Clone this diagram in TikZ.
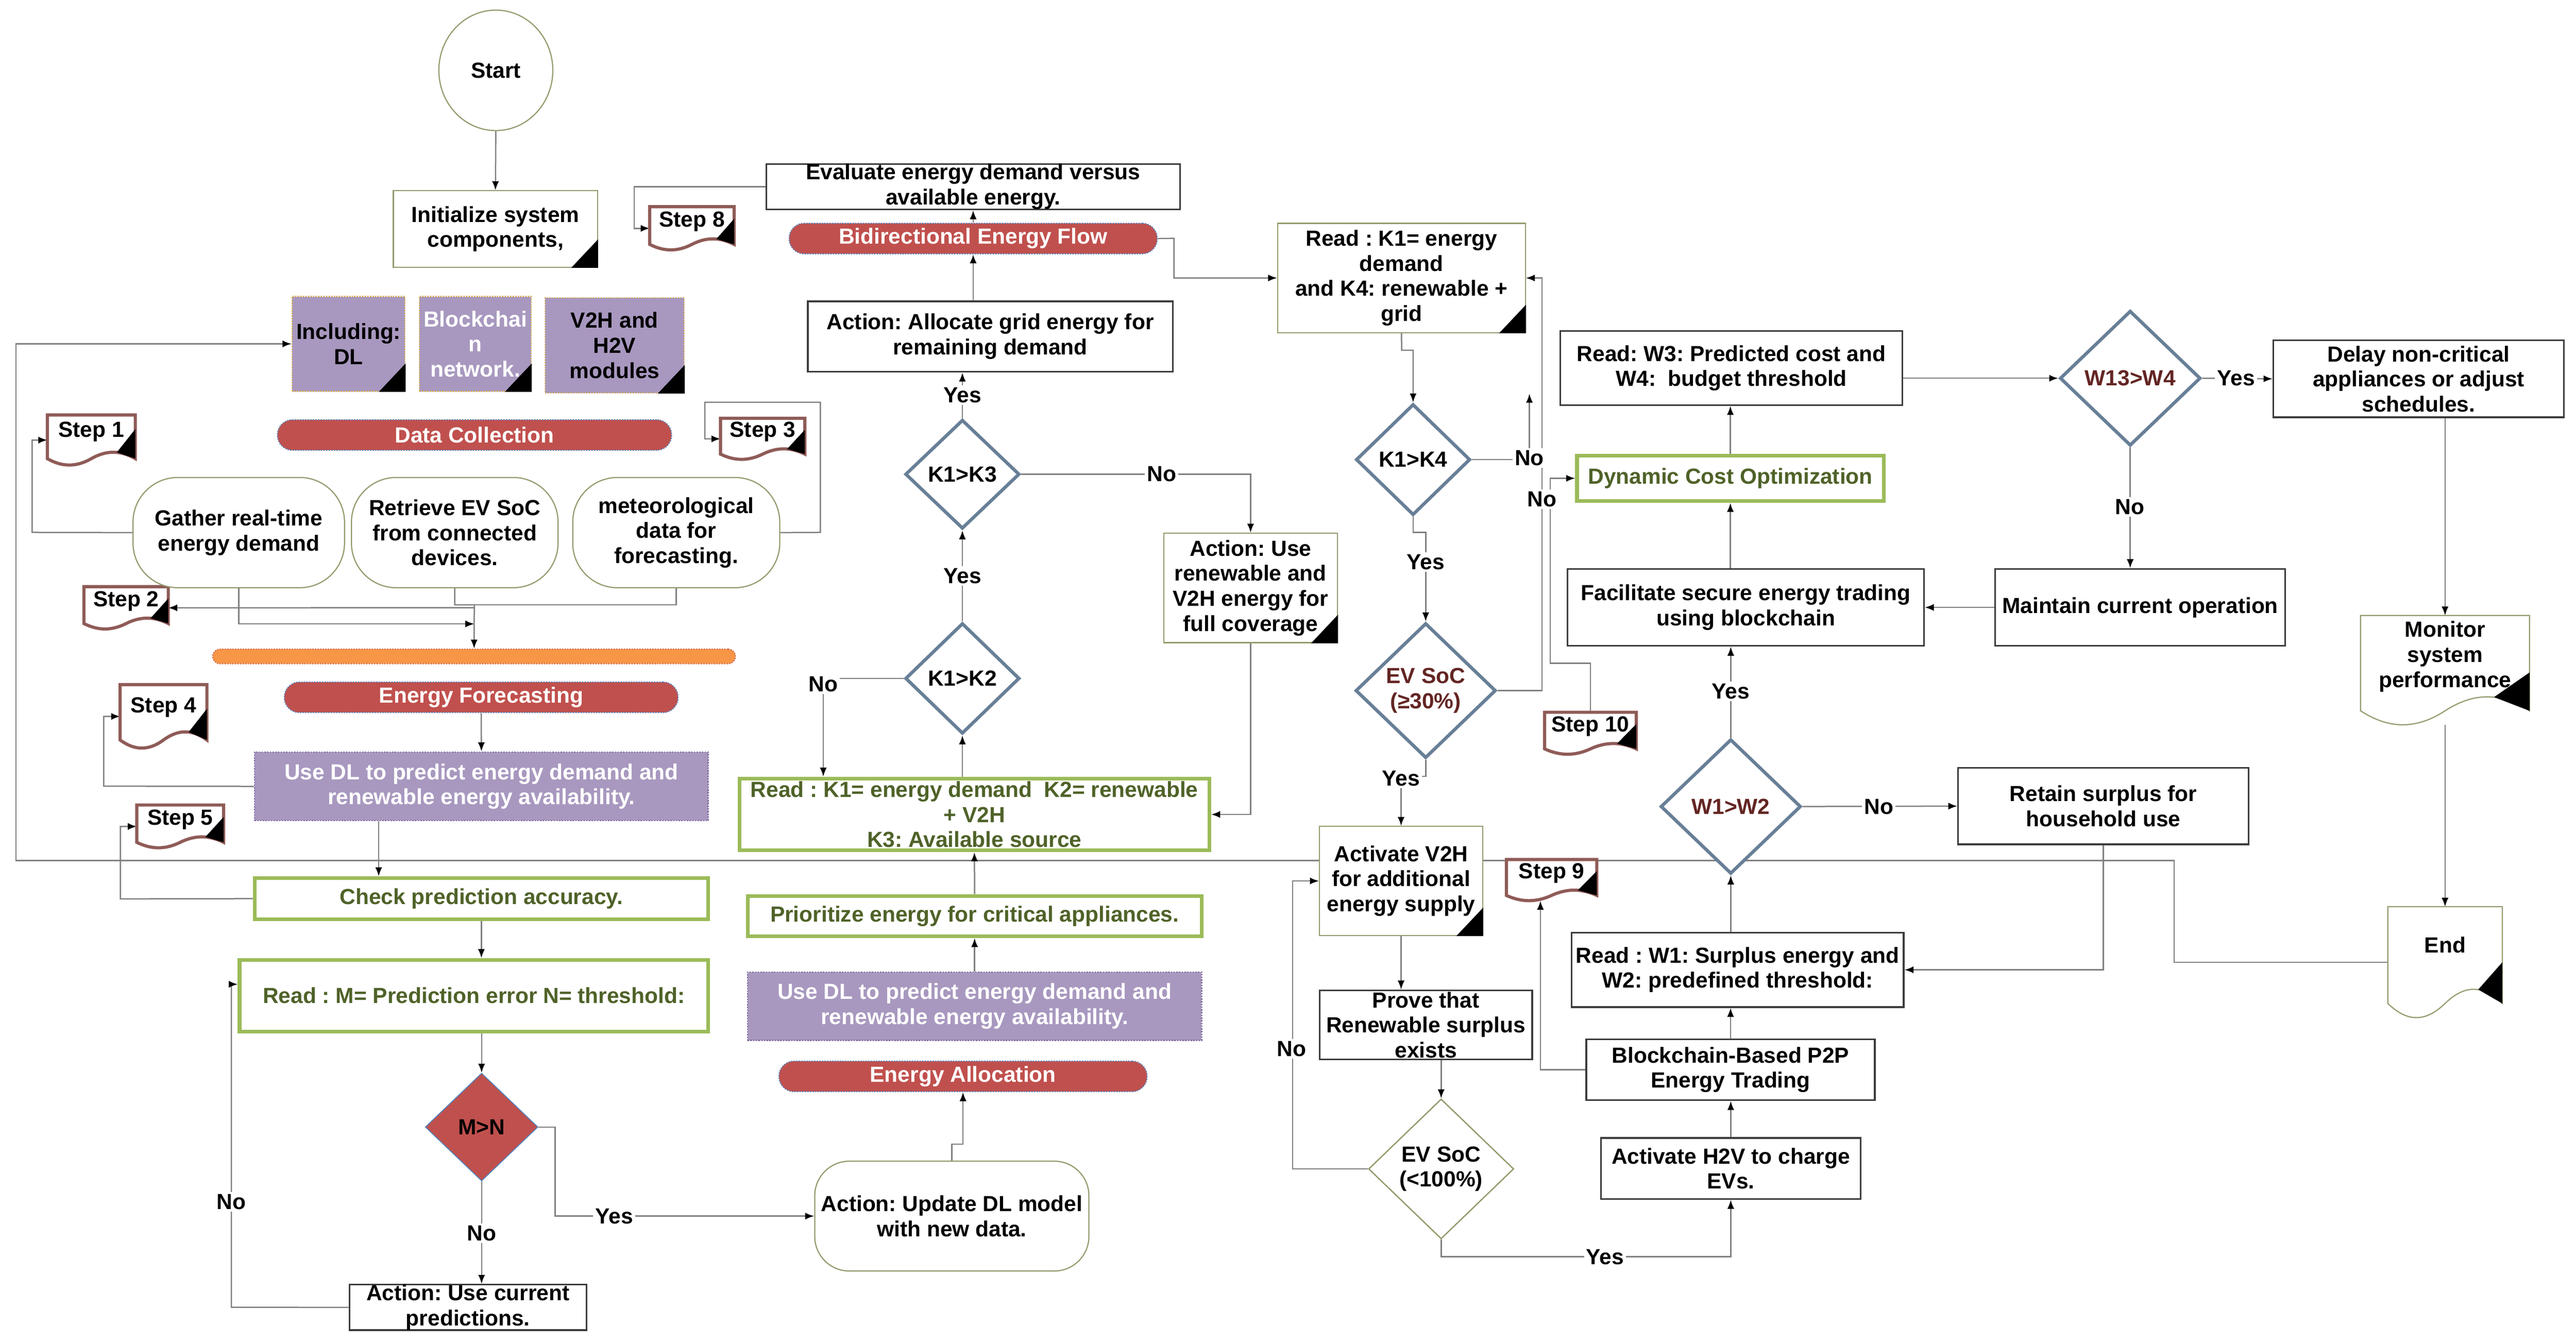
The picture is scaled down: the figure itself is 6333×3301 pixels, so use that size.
\documentclass[tikz,border=0pt]{standalone}
\usepackage{fontspec}
\setmainfont{Liberation Sans}
\usetikzlibrary{shapes.geometric,arrows.meta,calc}
\pgfdeclarelayer{background}
\pgfdeclarelayer{mid}
\pgfsetlayers{background,mid,main}
\definecolor{cRed}{HTML}{C0504D}
\definecolor{cPurp}{HTML}{A898BF}
\definecolor{cOrange}{HTML}{F79646}
\definecolor{cGreen}{HTML}{9BBB59}
\definecolor{cGreenT}{HTML}{4F6228}
\definecolor{cSteel}{HTML}{687F97}
\definecolor{cDkRed}{HTML}{632523}
\definecolor{cOlive}{HTML}{949A6C}
\definecolor{cBox}{HTML}{3C3C3C}
\definecolor{cLine}{HTML}{808080}
\definecolor{cStep}{HTML}{8F5B57}
\definecolor{cBlueDot}{HTML}{4F81BD}
\definecolor{cYelDot}{HTML}{D9A93F}
\definecolor{cPurpDot}{HTML}{7F6A9F}
\frenchspacing

\newcommand\mkbox[7]{\node[#6, minimum width={(#4-#2)*0.01cm}, minimum height={(#5-#3)*0.01cm}] (#1) at ({(#2+#4)/2},{(#3+#5)/2}) {#7};}
\newcommand\mkdia[7]{\node[#6, minimum width={#4*0.01cm}, minimum height={#5*0.01cm}] (#1) at (#2,#3) {#7};}
\newcommand\blkcorner[1]{\fill[black] ($(#1.south east)+(0cm,0.70cm)$) -- (#1.south east) -- ($(#1.south east)+(-0.66cm,0cm)$) -- cycle;}
\newcommand\raisetxt[2]{\raisebox{#1}[\height][\depth]{\begin{tabular}{@{}c@{}}#2\end{tabular}}}
\newcommand\mkdoc[3]{%
 \path[#2] let \p1=(#1.north west), \p2=(#1.south east), \n1={\x2-\x1}, \n2={\y1-\y2} in
  (\x1,\y1) -- (\x2,\y1) -- (\x2,{\y2+0.13*\n2})
  .. controls ({\x2-0.17*\n1},{\y2+0.30*\n2}) and ({\x1+0.67*\n1},{\y2+0.30*\n2}) .. ({\x1+0.5*\n1},{\y2+0.13*\n2})
  .. controls ({\x1+0.33*\n1},{\y2-0.04*\n2}) and ({\x1+0.17*\n1},{\y2-0.04*\n2}) .. (\x1,{\y2+0.13*\n2}) -- cycle;
 \fill[black] let \p1=(#1.north west), \p2=(#1.south east), \n1={\x2-\x1}, \n2={\y1-\y2} in
  (\x2,{\y2+#3*\n2}) -- (\x2,{\y2+0.13*\n2}) -- ({\x2-0.21*\n1},{\y2+0.255*\n2}) -- cycle;
}

\tikzset{
 every node/.style={font=\frenchspacing\bfseries\fontsize{15.3pt}{17.5pt}\selectfont, inner sep=0pt, align=center},
 grayb/.style={draw=cBox, line width=1.2pt, fill=white},
 oliveb/.style={draw=cOlive, line width=0.8pt, fill=white},
 stad/.style={draw=cOlive, line width=0.8pt, fill=white, rounded corners=1.1cm},
 greenb/.style={draw=cGreen, line width=2.6pt, fill=white, text=cGreenT},
 purpS/.style={draw=cYelDot, densely dotted, line width=0.8pt, fill=cPurp},
 purpD/.style={draw=cPurpDot, densely dotted, line width=0.9pt, fill=cPurp, text=white},
 redbar/.style={draw=cBlueDot, densely dotted, line width=0.8pt, fill=cRed, text=white, rounded corners=0.37cm},
 orbar/.style={draw=cRed!70!cOrange, densely dotted, line width=0.8pt, fill=cOrange, rounded corners=0.18cm},
 dia/.style={diamond, draw=cSteel, line width=2.3pt, fill=white},
 docn/.style={rectangle},
 stepline/.style={draw=cStep, line width=2.2pt, fill=white},
 oliveline/.style={draw=cOlive, line width=0.8pt, fill=white},
 conn/.style={draw=cLine, line width=0.9pt, -{Latex[length=0.22cm,width=0.17cm,color=black]}},
 plain/.style={draw=cLine, line width=0.9pt},
 lbl/.style={fill=white, inner sep=1.5pt},
}

\begin{document}
\begin{tikzpicture}[x=0.01cm, y=-0.01cm]
\useasboundingbox (0,0) rectangle (6333,3301);
\begin{pgfonlayer}{background}
\fill[white] (0,0) rectangle (6333,3301);
\end{pgfonlayer}

% ---------- left part ----------
\node[ellipse, draw=cOlive, line width=0.8pt, fill=white, minimum width=2.8cm, minimum height=2.96cm] (start) at (1219,173) {Start};
\mkbox{init}{967}{469}{1469}{657}{oliveb}{Initialize system\\components,}
\blkcorner{init}
\mkbox{incl}{718}{729}{996}{962}{purpS}{Including:\\DL}
\blkcorner{incl}
\mkbox{bchain}{1031}{729}{1306}{962}{purpS, text=white}{Blockchai\\n\\network.}
\blkcorner{bchain}
\mkbox{vth}{1340}{732}{1682}{966}{purpS}{V2H and\\H2V\\modules}
\blkcorner{vth}
\mkbox{dcol}{682}{1032}{1651}{1107}{redbar}{Data Collection}
\mkbox{gather}{327}{1174}{847}{1445}{stad}{Gather real-time\\energy demand}
\mkbox{retr}{864}{1174}{1372}{1445}{stad}{Retrieve EV SoC\\from connected\\devices.}
\mkbox{meteo}{1408}{1174}{1917}{1445}{stad}{meteorological\\data for\\forecasting.}
\mkbox{orange}{523}{1596}{1808}{1632}{orbar}{}
\mkbox{fcast}{699}{1677}{1667}{1752}{redbar}{Energy Forecasting}
\mkbox{udl1}{626}{1849}{1741}{2018}{purpD}{Use DL to predict energy demand and\\renewable energy availability.}
\mkbox{check}{626}{2159}{1741}{2260}{greenb}{Check prediction accuracy.}
\mkbox{readM}{589}{2360}{1741}{2536}{greenb}{Read : M= Prediction error N= threshold:}
\mkdia{MN}{1184}{2771}{277}{265}{diamond, draw=cBlueDot, line width=0.6pt, fill=cRed}{M>N}
\mkbox{actuse}{859}{3160}{1442}{3269}{grayb}{Action: Use current\\predictions.}

% steps (documents)
\mkbox{step1}{117}{1021}{332}{1143}{docn}{\raisetxt{0.2cm}{Step 1}}
\mkbox{step2}{207}{1443}{413}{1546}{docn}{\raisetxt{0.16cm}{Step 2}}
\mkbox{step3}{1772}{1029}{1978}{1129}{docn}{\raisetxt{0.16cm}{Step 3}}
\mkbox{step4}{296}{1684}{508}{1839}{docn}{\raisetxt{0.22cm}{Step 4}}
\mkbox{step5}{337}{1980}{549}{2084}{docn}{\raisetxt{0.16cm}{Step 5}}
\mkbox{step8}{1598}{509}{1804}{614}{docn}{\raisetxt{0.16cm}{Step 8}}
\mkbox{step9}{3704}{2114}{3925}{2214}{docn}{\raisetxt{0.16cm}{Step 9}}
\mkbox{step10}{3798}{1752}{4022}{1854}{docn}{\raisetxt{0.16cm}{Step 10}}
\mkbox{monitor}{5804}{1514}{6218}{1782}{docn}{\raisetxt{0.32cm}{Monitor\\system\\performance}}
\mkbox{endd}{5871}{2230}{6151}{2502}{docn}{\raisetxt{0.36cm}{End}}

% ---------- middle ----------
\mkbox{eval}{1884}{404}{2901}{514}{grayb}{Evaluate energy demand versus\\available energy.}
\mkbox{bidir}{1940}{549}{2845}{624}{redbar}{Bidirectional Energy Flow}
\mkbox{alloc}{1986}{741}{2883}{914}{grayb}{Action: Allocate grid energy for\\remaining demand}
\mkdia{K1K3}{2366}{1166}{281}{268}{dia}{K1>K3}
\mkdia{K1K2}{2366}{1668}{281}{272}{dia}{K1>K2}
\mkbox{actren}{2861}{1311}{3288}{1580}{oliveb}{Action: Use\\renewable and\\V2H energy for\\full coverage}
\blkcorner{actren}
\mkbox{readK}{1818}{1914}{2973}{2091}{greenb}{Read : K1= energy demand\ \ K2= renewable\\+ V2H\\K3: Available source}
\mkbox{prior}{1838}{2203}{2954}{2302}{greenb}{Prioritize energy for critical appliances.}
\mkbox{udl2}{1838}{2390}{2954}{2558}{purpD}{Use DL to predict energy demand and\\renewable energy availability.}
\mkbox{ealloc}{1915}{2609}{2820}{2684}{redbar}{Energy Allocation}
\mkbox{update}{2003}{2855}{2677}{3125}{oliveb, rounded corners=0.85cm}{Action: Update DL model\\with new data.}

% ---------- right-middle ----------
\mkbox{readK1}{3141}{549}{3750}{818}{oliveb}{Read : K1= energy\\demand\\and K4: renewable +\\grid}
\blkcorner{readK1}
\mkdia{K1K4}{3474}{1130}{281}{273}{dia}{K1>K4}
\mkdia{ev30}{3505}{1698}{345}{332}{dia, text=cDkRed}{EV SoC\\(≥30\%)}
\mkbox{actv2h}{3244}{2032}{3645}{2300}{oliveb}{Activate V2H\\for additional\\energy supply}
\blkcorner{actv2h}
\mkbox{prove}{3244}{2435}{3767}{2605}{grayb}{Prove that\\Renewable surplus\\exists}
\mkdia{ev100}{3543}{2874}{357}{344}{diamond, draw=cOlive, line width=0.9pt, fill=white}{EV SoC\\(<100\%)}
\mkbox{dyn}{3877}{1120}{4631}{1232}{greenb}{Dynamic Cost Optimization}
\mkbox{W3}{3836}{814}{4677}{996}{grayb}{Read: W3: Predicted cost and\\W4:\ \ budget threshold}
\mkbox{facil}{3854}{1399}{4730}{1588}{grayb}{Facilitate secure energy trading\\using blockchain}
\mkdia{W1W2}{4255}{1983}{345}{331}{dia, text=cDkRed}{W1>W2}
\mkbox{W1read}{3864}{2293}{4680}{2476}{grayb}{Read : W1: Surplus energy and\\W2: predefined threshold:}
\mkbox{blk}{3900}{2555}{4609}{2705}{grayb}{Blockchain-Based P2P\\Energy Trading}
\mkbox{h2v}{3936}{2798}{4574}{2948}{grayb}{Activate H2V to charge\\EVs.}

% ---------- right ----------
\mkdia{W13}{5237}{930}{346}{332}{dia, text=cDkRed}{W13>W4}
\mkbox{delay}{5589}{837}{6303}{1026}{grayb}{Delay non-critical\\appliances or adjust\\schedules.}
\mkbox{maint}{4905}{1399}{5618}{1588}{grayb}{Maintain current operation}
\mkbox{retain}{4814}{1888}{5528}{2076}{grayb}{Retain surplus for\\household use}

% document outlines
\begin{pgfonlayer}{mid}
\mkdoc{step1}{stepline}{0.72}
\mkdoc{step2}{stepline}{0.72}
\mkdoc{step3}{stepline}{0.72}
\mkdoc{step4}{stepline}{0.62}
\mkdoc{step5}{stepline}{0.72}
\mkdoc{step8}{stepline}{0.72}
\mkdoc{step9}{stepline}{0.72}
\mkdoc{step10}{stepline}{0.72}
\mkdoc{monitor}{oliveline}{0.48}
\mkdoc{endd}{oliveline}{0.50}
\end{pgfonlayer}

% junction points
\coordinate (jA) at (1166,1534);
\coordinate (jB) at (1166,1494);
\coordinate (jC) at (1166,1487);
\coordinate (dang) at (3760,968);

% ---------- connectors ----------
\begin{pgfonlayer}{background}
\draw[conn] (start.south) -- (init.north);
\draw[conn] (endd.west) -- (5345,2366) -- (5345,2116) -- (39,2116) |- (incl.west);
\draw[conn] (gather.west) -- (79,1309) |- (step1.west);
\draw[conn] (gather.south) |- (jA);
\draw[plain] (meteo.south) |- (jC);
\draw[conn] (retr.south) |- (jC) -- (orange.north);
\draw[conn] (jB) -- (step2.east);
\draw[conn] (meteo.east) -- (2017,1309) -- (2017,989) -- (1733,989) |- (step3.west);
\draw[conn] (fcast.south) -- (udl1.north);
\draw[conn] (udl1.west) -- (255,1933) |- (step4.west);
\draw[conn] (udl1.south -| 931,0) -- (check.north -| 931,0);
\draw[conn] (check.south) -- (check.south |- readM.north);
\draw[conn] (check.west) -- (296,2210) |- (step5.west);
\draw[conn] (readM.south -| MN.north) -- (MN.north);
\draw[conn] (MN.south) -- (MN.south |- actuse.north);
\draw[conn] (actuse.west) -- (569,3214) -- (569,2420) -- (readM.west |- 569,2420);
\draw[conn] (MN.east) -- (1365,2771) |- (update.west);
\draw[conn] (update.north) -- (2340,2813) -| (ealloc.south);
\draw[conn] (udl2.north) -- (prior.south);
\draw[conn] (prior.north) -- (readK.south);
\draw[conn] (readK.north -| K1K2.south) -- (K1K2.south);
\draw[conn] (K1K2.north) -- (K1K3.south);
\draw[conn] (K1K2.west) -| (readK.north -| 2024,0);
\draw[conn] (K1K3.north) -- (K1K3.north |- alloc.south);
\draw[conn] (K1K3.east) -| (actren.north);
\draw[conn] (actren.south) |- (readK.east);
\draw[conn] (bidir.south |- alloc.north) -- (bidir.south);
\draw[conn] (bidir.north) -- (eval.south);
\draw[conn] (eval.west) -- (1559,459) |- (step8.west);
\draw[conn] (bidir.east) -- (2886,586) |- (readK1.west);
\draw[conn] (readK1.south) -- (3446,861) -- (3474,861) -- (K1K4.north);
\draw[conn] (K1K4.east) -- (3760,1130) -- (dang);
\draw[conn] (K1K4.south) -- (3474,1309) -| (ev30.north);
\draw[conn] (ev30.east) -- (3791,1698) |- (readK1.east);
\draw[conn] (ev30.south) -- (3505,1909) -| (actv2h.north);
\draw[conn] (step10.north) -- (3910,1631) -- (3811,1631) |- (dyn.west);
\draw[conn] (dyn.north) -- (dyn.north |- W3.south);
\draw[conn] (dyn.south |- facil.north) -- (dyn.south);
\draw[conn] (W3.east |- W13.west) -- (W13.west);
\draw[conn] (W13.east) -- (delay.west);
\draw[conn] (W13.south) -- (W13.south |- maint.north);
\draw[conn] (maint.west) -- (facil.east);
\draw[conn] (monitor.north |- delay.south) -- (monitor.north);
\draw[conn] (monitor.south) -- (endd.north);
\draw[conn] (W1W2.north) -- (W1W2.north |- facil.south);
\draw[conn] (W1W2.east) -- (retain.west);
\draw[conn] (retain.south) |- (W1read.east);
\draw[conn] (W1W2.south |- W1read.north) -- (W1W2.south);
\draw[conn] (blk.north) -- (blk.north |- W1read.south);
\draw[conn] (h2v.north) -- (h2v.north |- blk.south);
\draw[conn] (blk.west) -- (3787,2630) -- (step9.south -| 3787,0);
\draw[conn] (actv2h.south) -- (actv2h.south |- prove.north);
\draw[conn] (ev100.north |- prove.south) -- (ev100.north);
\draw[conn] (ev100.west) -- (3178,2874) |- (actv2h.west);
\draw[conn] (ev100.south) -- (3543,3090) -| (h2v.south);
\end{pgfonlayer}

% ---------- labels ----------
\node[lbl] (lA) at (2366,971) {Yes};
\node[lbl] (lB) at (2366,1416) {Yes};
\node[lbl] (lC) at (2856,1166) {No};
\node[lbl] (lD) at (2024,1682) {No};
\node[lbl] (lE) at (3760,1126) {No};
\node[lbl] (lF) at (3791,1227) {No};
\node[lbl] (lG) at (3505,1382) {Yes};
\node[lbl] (lH) at (3444,1914) {Yes};
\node[lbl] (lI) at (5497,930) {Yes};
\node[lbl] (lJ) at (5236,1246) {No};
\node[lbl] (lK) at (4255,1700) {Yes};
\node[lbl] (lL) at (4619,1983) {No};
\node[lbl] (lM) at (3175,2579) {No};
\node[lbl] (lN) at (3946,3090) {Yes};
\node[lbl] (lO) at (1184,3032) {No};
\node[lbl] (lP) at (569,2955) {No};
\node[lbl] (lQ) at (1510,2990) {Yes};
\end{tikzpicture}
\end{document}
